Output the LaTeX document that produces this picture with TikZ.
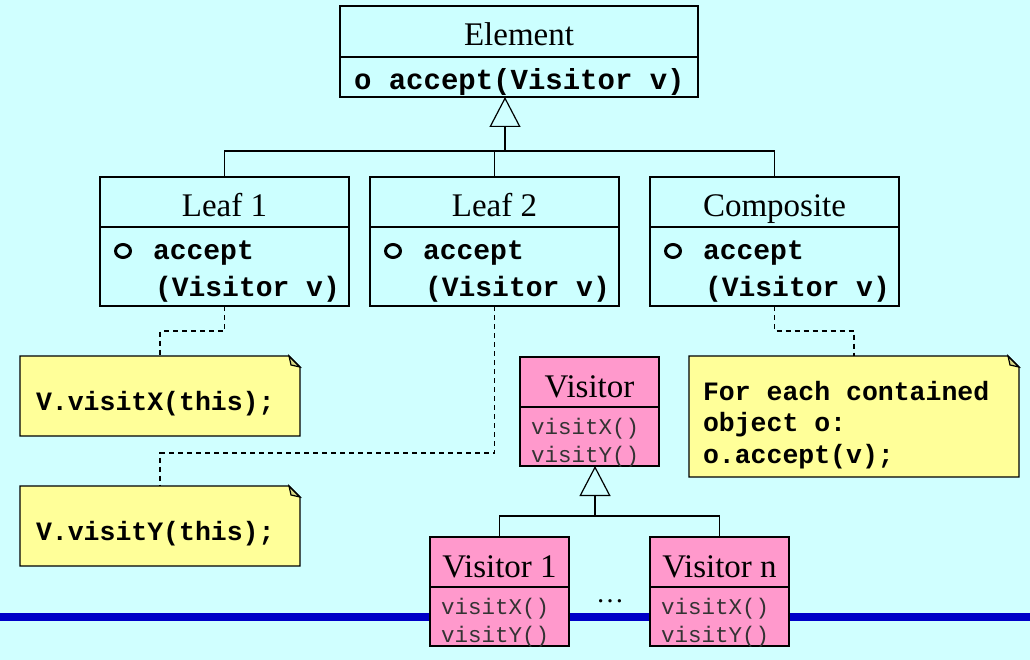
\documentclass[tikz,border=0pt]{standalone}
\usepackage{fontspec}
\setmainfont{Liberation Serif}
\setmonofont{Liberation Mono}
\usetikzlibrary{positioning, arrows.meta, calc}

\definecolor{bgcyan}{RGB}{208,255,255}
\definecolor{classcyan}{RGB}{204,255,255}
\definecolor{visitorpink}{RGB}{255,153,204}
\definecolor{noteyellow}{RGB}{255,255,153}
\definecolor{earyellow}{RGB}{214,214,130}
\definecolor{barblue}{RGB}{0,0,200}

\newcommand{\tsp}{\hspace*{0.6em}}
\newcommand{\titlefont}{\fontsize{33}{38}\selectfont}
\newcommand{\opfont}{\ttfamily\bfseries\fontsize{28}{36}\selectfont}
\newcommand{\notefont}{\ttfamily\bfseries\fontsize{26.5}{31.5}\selectfont}
\newcommand{\visitfont}{\ttfamily\fontsize{22.5}{28}\selectfont}
\newcommand{\opmark}{\tikz[baseline=-9pt]\draw[line width=3pt] (0pt,0pt) ellipse (7.5pt and 6.5pt);}

% folded corner of a note
\newcommand{\foldcorner}[1]{%
  \fill[bgcyan] (#1.north east) -- ++(-11,0) -- ++(11,11) -- cycle;
  \draw[line width=1.2pt, fill=earyellow] (#1.north east) ++(-11,0) -- ++(2,9) -- ++(9,2) -- cycle;
  \draw[line width=1.2pt] (#1.north west) -- ($(#1.north east)+(-11,0)$)
    -- ($(#1.north east)+(0,11)$) -- (#1.south east) -- (#1.south west) -- cycle;
}

\tikzset{
  classtitle/.style={draw, line width=1.2pt, fill=classcyan, anchor=north west,
    text height=40pt, text depth=10pt, inner sep=0pt, outer sep=0pt, font=\titlefont},
  classbody/.style={draw, line width=1.2pt, fill=classcyan, anchor=north,
    inner ysep=0pt, outer sep=0pt, align=left},
  note/.style={fill=noteyellow, anchor=north west, inner xsep=16pt, inner ysep=0pt,
    outer sep=0pt, align=left, font=\notefont},
  umlline/.style={line width=1.2pt},
  gen/.style={umlline, -{Triangle[open, length=30pt, width=31pt]}},
  notelink/.style={line width=1.2pt, dash pattern=on 5pt off 4pt}
}

\begin{document}
\begin{tikzpicture}[x=1pt, y=-1pt]
    \useasboundingbox (0,0) rectangle (1030,660);
    \fill[bgcyan] (0,0) rectangle (1030,660);

    % blue bar
    \draw[barblue, line width=8pt] (0,617) -- (1030,617);

    % Element
    \node[classtitle, minimum width=358pt, text height=40pt, text depth=11pt] (elem) at (340,6) {Element};
    \node[classbody, below=0pt of elem, minimum width=358pt, text height=33pt, text depth=7pt,
      text width=330pt, inner xsep=14pt, font=\ttfamily\bfseries\fontsize{29}{36}\selectfont]
      (elemM) {o\tsp accept(Visitor\tsp v)};

    % Leaves and composite
    \node[classtitle, minimum width=249pt] (leafA) at (100,177) {Leaf 1};
    \node[classbody, below=0pt of leafA, minimum width=249pt, text height=33pt, text depth=46pt,
      text width=233pt, inner xsep=8pt, font=\opfont]
      (leafAM) {\makebox[45pt][l]{\hspace*{6pt}\opmark}accept\\\hspace*{47pt}(Visitor\tsp v)};
    \node[classtitle, minimum width=249pt] (leafB) at (370,177) {Leaf 2};
    \node[classbody, below=0pt of leafB, minimum width=249pt, text height=33pt, text depth=46pt,
      text width=233pt, inner xsep=8pt, font=\opfont]
      (leafBM) {\makebox[45pt][l]{\hspace*{6pt}\opmark}accept\\\hspace*{47pt}(Visitor\tsp v)};
    \node[classtitle, minimum width=249pt] (comp) at (650,177) {Composite};
    \node[classbody, below=0pt of comp, minimum width=249pt, text height=33pt, text depth=46pt,
      text width=233pt, inner xsep=8pt, font=\opfont]
      (compM) {\makebox[45pt][l]{\hspace*{6pt}\opmark}accept\\\hspace*{47pt}(Visitor\tsp v)};

    \coordinate (elemJ) at (505,151);
    \draw[umlline] (leafA.north) |- (elemJ) -| (comp.north);
    \draw[umlline] (leafB.north) -- (leafB.north |- elemJ);
    \draw[gen] (elemJ) -- (elemJ |- elemM.south);

    % Notes
    \node[note, minimum width=280pt, text height=54pt, text depth=26pt, text width=248pt] (noteX) at (20,356)
      {V.visitX(this);};
    \foldcorner{noteX}
    \node[note, minimum width=280pt, text height=54pt, text depth=26pt, text width=248pt] (noteY) at (20,486)
      {V.visitY(this);};
    \foldcorner{noteY}
    \node[note, minimum width=330pt, text height=44pt, text depth=77pt, text width=302pt, inner xsep=14pt] (noteO) at (689,356)
      {For\tsp each\tsp contained\\object\tsp o:\\o.accept(v);};
    \foldcorner{noteO}

    \draw[notelink] (leafAM.south) -- ++(0,25) -| (noteX.north);
    \draw[notelink] (leafBM.south) -- ++(0,147) -| (noteY.north);
    \draw[notelink] (compM.south) -- ++(0,25) -| (noteO.north);

    % Visitors
    \node[classtitle, fill=visitorpink, minimum width=139pt] (vis) at (520,357) {Visitor};
    \node[classbody, fill=visitorpink, below=0pt of vis, minimum width=139pt, text height=27pt, text depth=32pt,
      text width=117pt, inner xsep=11pt, font=\visitfont, text=black!80]
      (visM) {visitX()\\visitY()};
    \node[classtitle, fill=visitorpink, minimum width=139pt] (visA) at (430,537) {Visitor 1};
    \node[classbody, fill=visitorpink, below=0pt of visA, minimum width=139pt, text height=27pt, text depth=32pt,
      text width=117pt, inner xsep=11pt, font=\visitfont, text=black!80]
      (visAM) {visitX()\\visitY()};
    \node[classtitle, fill=visitorpink, minimum width=139pt] (visN) at (650,537) {Visitor n};
    \node[classbody, fill=visitorpink, below=0pt of visN, minimum width=139pt, text height=27pt, text depth=32pt,
      text width=117pt, inner xsep=11pt, font=\visitfont, text=black!80]
      (visNM) {visitX()\\visitY()};
    \node[font=\fontsize{28}{30}\selectfont] (dots) at (610,601) {\dots};

    \coordinate (visJ) at (595,516);
    \draw[umlline] (visA.north) |- (visJ) -| (visN.north);
    \draw[gen] (visJ) -- (visJ |- visM.south);
\end{tikzpicture}
\end{document}
